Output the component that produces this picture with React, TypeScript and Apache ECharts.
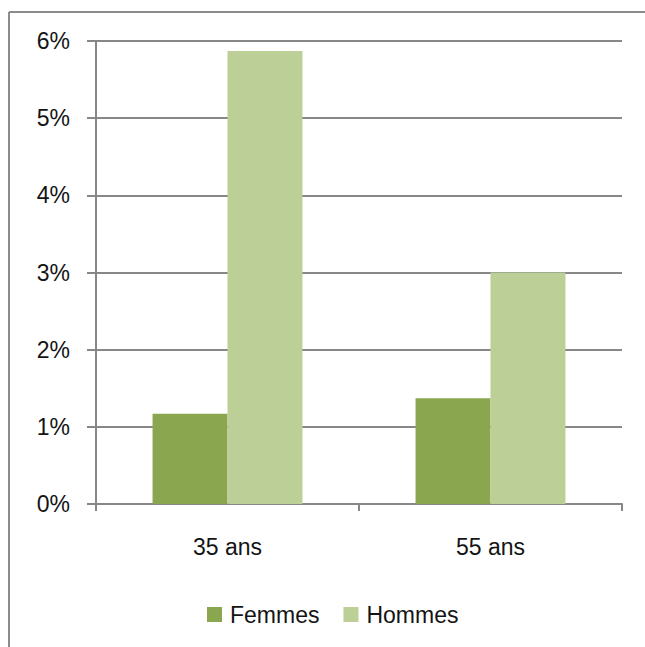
import React, { useEffect, useRef } from "react";
import * as echarts from "echarts";

const categories = ["35 ans", "55 ans"];
const femmes = [1.17, 1.37];
const hommes = [5.87, 3.0];
const seriesNames = ["Femmes", "Hommes"];

export default function App() {
  const ref = useRef<HTMLDivElement>(null);
  useEffect(() => {
    if (!ref.current) return;
    const chart = echarts.init(ref.current, undefined, { renderer: "svg" });
    const font = "'Liberation Sans', Arial, sans-serif";
    const labelColor = "#141414";
    const axisColor = "#878787";
    chart.setOption({
      animation: false,
      backgroundColor: "#ffffff",
      graphic: [
        {
          type: "line",
          shape: { x1: 9, y1: 12, x2: 645, y2: 12 },
          style: { stroke: "#8c8c8c", lineWidth: 2 },
          silent: true,
        },
        {
          type: "line",
          shape: { x1: 9, y1: 12, x2: 9, y2: 647 },
          style: { stroke: "#8c8c8c", lineWidth: 2 },
          silent: true,
        },
      ],
      grid: { left: 96, top: 41, width: 526, height: 463, containLabel: false },
      legend: {
        data: seriesNames,
        left: 202,
        top: 598,
        itemWidth: 15,
        itemHeight: 15,
        itemGap: 24,
        icon: "rect",
        textStyle: { fontFamily: font, fontSize: 23, color: labelColor, padding: [0, 0, 0, 3] },
      },
      xAxis: {
        type: "category",
        data: categories,
        axisLine: { show: true, lineStyle: { color: axisColor, width: 2 } },
        axisTick: { show: true, length: 7, alignWithLabel: false, lineStyle: { color: axisColor, width: 2 } },
        axisLabel: { fontFamily: font, fontSize: 23, color: labelColor, margin: 31 },
      },
      yAxis: {
        type: "value",
        min: 0,
        max: 6,
        interval: 1,
        axisLine: { show: true, lineStyle: { color: axisColor, width: 2 } },
        axisTick: { show: true, length: 9, lineStyle: { color: axisColor, width: 2 } },
        splitLine: { show: true, lineStyle: { color: axisColor, width: 2 } },
        axisLabel: { fontFamily: font, fontSize: 23, color: labelColor, margin: 26, formatter: "{value}%" },
      },
      series: [
        {
          name: seriesNames[0],
          type: "bar",
          data: femmes,
          itemStyle: { color: "#8aa64f" },
          barGap: "0%",
          barCategoryGap: "43%",
        },
        {
          name: seriesNames[1],
          type: "bar",
          data: hommes,
          itemStyle: { color: "#bbcf97" },
          barGap: "0%",
          barCategoryGap: "43%",
        },
      ],
    });
    return () => chart.dispose();
  }, []);
  return (
    <div
      ref={ref}
      style={{ position: "absolute", left: 0, top: 0, width: 645, height: 647 }}
    />
  );
}
